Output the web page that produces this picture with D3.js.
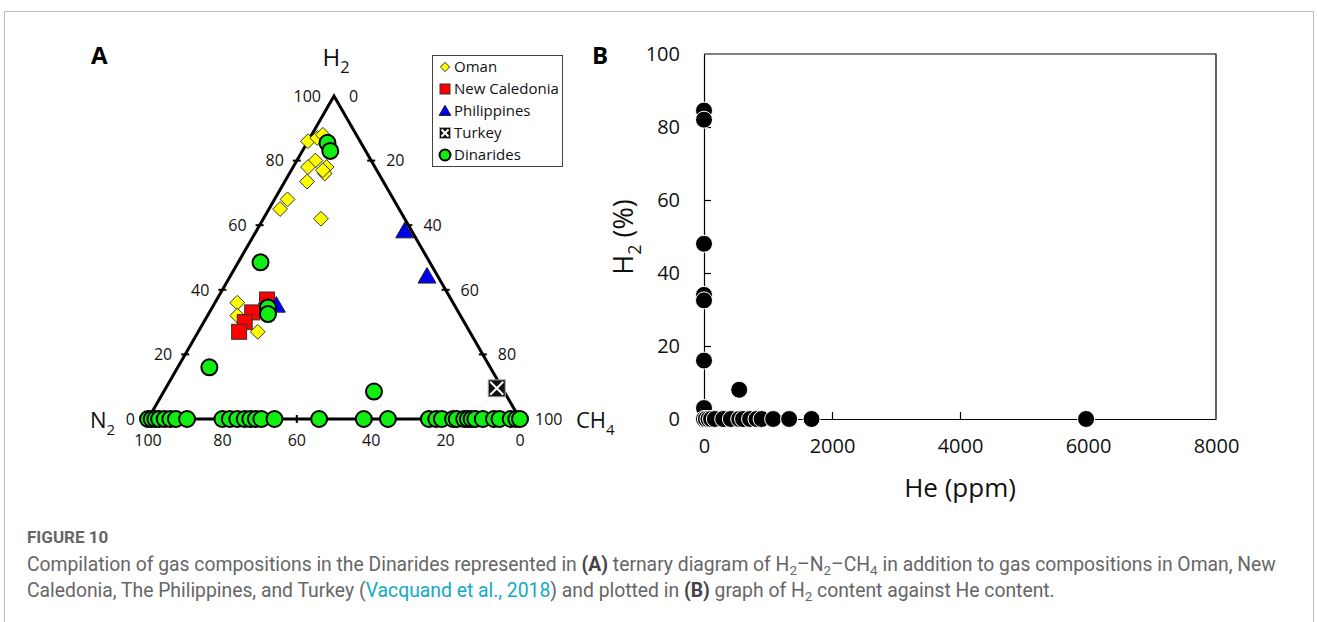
<!DOCTYPE html>
<html>
<head>
<meta charset="utf-8">
<script src="https://cdn.jsdelivr.net/npm/d3@7"></script>
<style>
  body { margin: 0; background: #fff; }
  svg text { font-family: "Open Sans", "Noto Sans", sans-serif; fill: #111; }
</style>
</head>
<body>
<div id="chart"></div>
<script>
// ---- panel A : ternary H2 - N2 - CH4 (percent) ----
var omanH2  = [86, 87, 88, 78, 80, 78, 76, 77, 73.5, 68, 65, 62, 36, 32, 27];
var omanN2  = [14, 11, 9, 13, 15, 18, 14.5, 14.5, 20.5, 28.5, 32, 22.5, 58, 60, 57];
var omanCH4 = [0, 2, 3, 9, 5, 4, 9.5, 8.5, 6, 3.5, 3, 15.5, 6, 8, 16];

var ncH2  = [37, 33.5, 33, 30, 27];
var ncN2  = [49.5, 51.5, 55.5, 59, 62];
var ncCH4 = [13.5, 15, 11.5, 11, 11];

var phH2  = [58, 44, 35];
var phN2  = [2, 3, 48];
var phCH4 = [40, 53, 17];

var tkH2  = [9.5];
var tkN2  = [1.5];
var tkCH4 = [89];

var dinH2  = [85.5, 83, 48.5, 34.5, 32.5, 16, 8.5,
              0, 0, 0, 0, 0, 0, 0, 0, 0, 0, 0, 0, 0, 0, 0, 0, 0, 0, 0,
              0, 0, 0, 0, 0, 0, 0, 0, 0, 0, 0, 0, 0, 0, 0];
var dinCH4 = [5.5, 7.5, 6, 15, 16, 8.5, 56.5,
              0, 1, 2, 3, 4.5, 6, 7.5, 10.5, 20, 22, 24, 26, 27.5, 29, 30.5, 34, 46,
              58, 64.5, 75.5, 77.5, 79, 82, 83, 85, 86, 87, 88, 90, 93, 94.5, 97.5, 99, 100];

var axisTicks = [0, 20, 40, 60, 80, 100];

// ---- panel B : H2 vs He ----
var bHe = [0, 0, 0, 0, 0, 0, 0, 550,
           0, 30, 70, 110, 170, 300, 420, 550, 610, 720, 820, 900, 1080, 1330, 1680, 5970];
var bH2 = [84.5, 82, 48, 34, 32.5, 16, 3, 8,
           0, 0, 0, 0, 0, 0, 0, 0, 0, 0, 0, 0, 0, 0, 0, 0];
var bXTicks = [0, 2000, 4000, 6000, 8000];
var bYTicks = [0, 20, 40, 60, 80, 100];

var legendNames = ["Oman", "New Caledonia", "Philippines", "Turkey", "Dinarides"];

var W = 1317, H = 622;
var svg = d3.select("#chart").append("svg")
  .attr("width", W).attr("height", H);

// page frame
svg.append("path")
  .attr("d", "M4.5,622 V11.5 H1313.5 V622")
  .attr("fill", "none").attr("stroke", "#bcbcbc").attr("stroke-width", 1);

// ======== PANEL A ========
var tx = d3.scaleLinear().domain([0, 100]).range([148, 520]);
var ty = d3.scaleLinear().domain([0, 100]).range([419, 96]);

function tern(h, n, c) {
  var s = h + n + c;
  h = h / s * 100; c = c / s * 100;
  return [tx(c + h / 2), ty(h)];
}

var gA = svg.append("g");

var corners = [tern(0, 100, 0), tern(100, 0, 0), tern(0, 0, 100)];
gA.append("path")
  .attr("d", d3.line()(corners) + "Z")
  .attr("fill", "none").attr("stroke", "#000").attr("stroke-width", 3)
  .attr("stroke-linejoin", "miter");

// ticks
var inner = [20, 40, 60, 80];
inner.forEach(function(v) {
  var p = tern(v, 100 - v, 0);
  gA.append("line").attr("x1", p[0] - 4).attr("x2", p[0] + 4).attr("y1", p[1]).attr("y2", p[1])
    .attr("stroke", "#000").attr("stroke-width", 2);
  var q = tern(100 - v, 0, v);
  gA.append("line").attr("x1", q[0] - 4).attr("x2", q[0] + 4).attr("y1", q[1]).attr("y2", q[1])
    .attr("stroke", "#000").attr("stroke-width", 2);
  var r = tern(0, v, 100 - v);
  gA.append("line").attr("x1", r[0]).attr("x2", r[0]).attr("y1", r[1] - 4).attr("y2", r[1] + 4)
    .attr("stroke", "#000").attr("stroke-width", 2);
});

// tick labels
axisTicks.forEach(function(v) {
  var p = tern(v, 100 - v, 0);
  gA.append("text").attr("x", p[0] - 13).attr("y", p[1]).attr("dy", "0.36em")
    .attr("text-anchor", "end").style("font-size", "16px").text(v);
  var q = tern(100 - v, 0, v);
  gA.append("text").attr("x", q[0] + 15).attr("y", q[1]).attr("dy", "0.36em")
    .attr("text-anchor", "start").style("font-size", "16px").text(v);
  var r = tern(0, v, 100 - v);
  gA.append("text").attr("x", r[0]).attr("y", r[1] + 27)
    .attr("text-anchor", "middle").style("font-size", "16px").text(v);
});

// vertex titles
function subLabel(g, x, y, main, sub, size, anchor) {
  var t = g.append("text").attr("x", x).attr("y", y).attr("text-anchor", anchor)
    .style("font-size", size + "px");
  t.append("tspan").text(main);
  t.append("tspan").attr("dy", size * 0.3).style("font-size", (size * 0.68) + "px").text(sub);
  return t;
}
subLabel(gA, 336, 66, "H", "2", 24, "middle");
subLabel(gA, 90, 428, "N", "2", 22, "start");
subLabel(gA, 576, 428, "CH", "4", 22, "start");

gA.append("text").attr("x", 91).attr("y", 64).style("font-size", "24px")
  .style("font-weight", "bold").style("fill", "#000").text("A");

// markers
var diamond = d3.symbol().type(d3.symbolDiamond2).size(140);
var tri = d3.symbol().type(d3.symbolTriangle).size(140);

function drawSet(hs, ns, cs, fn) {
  hs.forEach(function(h, i) { var p = tern(h, ns[i], cs[i]); fn(p); });
}
drawSet(omanH2, omanN2, omanCH4, function(p) {
  gA.append("path").attr("d", diamond).attr("transform", "translate(" + p + ")")
    .attr("fill", "#ffff00").attr("stroke", "#333").attr("stroke-width", 1);
});
drawSet(ncH2, ncN2, ncCH4, function(p) {
  gA.append("rect").attr("x", p[0] - 7.5).attr("y", p[1] - 7.5).attr("width", 15).attr("height", 15)
    .attr("fill", "#ff0000").attr("stroke", "#333").attr("stroke-width", 1);
});
drawSet(phH2, phN2, phCH4, function(p) {
  gA.append("path").attr("d", tri).attr("transform", "translate(" + p[0] + "," + (p[1] + 1) + ")")
    .attr("fill", "#0000ee").attr("stroke", "#222").attr("stroke-width", 1);
});
function turkey(g, x, y, s) {
  g.append("rect").attr("x", x - s / 2).attr("y", y - s / 2).attr("width", s).attr("height", s)
    .attr("fill", "#111").attr("stroke", "#aaa").attr("stroke-width", 1);
  var k = s / 2 - 2;
  g.append("path").attr("d", "M" + (x - k) + "," + (y - k) + "L" + (x + k) + "," + (y + k) +
      "M" + (x + k) + "," + (y - k) + "L" + (x - k) + "," + (y + k))
    .attr("stroke", "#fff").attr("stroke-width", 2);
}
drawSet(tkH2, tkN2, tkCH4, function(p) { turkey(gA, p[0], p[1], 17); });
dinH2.forEach(function(h, i) {
  var c = dinCH4[i];
  var p = tern(h, 100 - h - c, c);
  gA.append("circle").attr("cx", p[0]).attr("cy", p[1]).attr("r", 8)
    .attr("fill", "#11ee11").attr("stroke", "#000").attr("stroke-width", 2);
});

// legend
var lg = gA.append("g");
lg.append("rect").attr("x", 432.5).attr("y", 55.5).attr("width", 130).attr("height", 111)
  .attr("fill", "#fff").attr("stroke", "#444").attr("stroke-width", 1);
legendNames.forEach(function(name, i) {
  var y = 67 + i * 22, x = 445;
  if (i === 0) lg.append("path").attr("d", d3.symbol().type(d3.symbolDiamond2).size(55))
    .attr("transform", "translate(" + x + "," + y + ")").attr("fill", "#ffff00").attr("stroke", "#333");
  if (i === 1) lg.append("rect").attr("x", x - 5).attr("y", y - 5).attr("width", 10).attr("height", 10)
    .attr("fill", "#ff0000").attr("stroke", "#333");
  if (i === 2) lg.append("path").attr("d", d3.symbol().type(d3.symbolTriangle).size(60))
    .attr("transform", "translate(" + x + "," + (y + 1) + ")").attr("fill", "#0000ee").attr("stroke", "#222");
  if (i === 3) turkey(lg, x, y, 11);
  if (i === 4) lg.append("circle").attr("cx", x).attr("cy", y).attr("r", 5.5)
    .attr("fill", "#11ee11").attr("stroke", "#000").attr("stroke-width", 2);
  lg.append("text").attr("x", 454).attr("y", y).attr("dy", "0.36em")
    .style("font-size", "15px").text(name);
});

// ======== PANEL B ========
var x = d3.scaleLinear().domain([0, 8000]).range([704, 1216]);
var y = d3.scaleLinear().domain([0, 100]).range([419, 54]);
var gB = svg.append("g");

gB.append("path")
  .attr("d", "M" + x(0) + "," + y(100) + "H" + x(8000) + "V" + y(0))
  .attr("fill", "none").attr("stroke", "#000").attr("stroke-width", 1.2);

var xAxis = gB.append("g").attr("transform", "translate(0," + y(0) + ")")
  .call(d3.axisBottom(x).tickValues(bXTicks).tickSize(-7).tickSizeOuter(0).tickPadding(20).tickFormat(d3.format("d")));
var yAxis = gB.append("g").attr("transform", "translate(" + x(0) + ",0)")
  .call(d3.axisLeft(y).tickValues(bYTicks).tickSize(-7).tickSizeOuter(0).tickPadding(24));
[xAxis, yAxis].forEach(function(a) {
  a.selectAll("path,line").attr("stroke", "#000").attr("stroke-width", 1.2);
  a.selectAll("text").style("font-size", "20px").attr("fill", "#111")
    .style("font-family", "'Open Sans', sans-serif");
});
xAxis.selectAll(".tick").filter(function(d) { return d === 0 || d === 8000; }).select("line").remove();
yAxis.selectAll(".tick").filter(function(d) { return d === 0 || d === 100; }).select("line").remove();

bH2.forEach(function(h, i) {
  gB.append("circle").attr("cx", x(bHe[i])).attr("cy", y(h)).attr("r", 8.5)
    .attr("fill", "#000").attr("stroke", "#fff").attr("stroke-width", 1);
});

var yt = gB.append("text").attr("transform", "translate(633,237) rotate(-90)")
  .attr("text-anchor", "middle").style("font-size", "27px");
yt.append("tspan").text("H");
yt.append("tspan").attr("dy", 8).style("font-size", "18px").text("2");
yt.append("tspan").attr("dy", -8).text(" (%)");

gB.append("text").attr("x", 960).attr("y", 497).attr("text-anchor", "middle")
  .style("font-size", "26px").text("He (ppm)");

gB.append("text").attr("x", 592).attr("y", 64).style("font-size", "24px")
  .style("font-weight", "bold").style("fill", "#000").text("B");

// ======== CAPTION ========
var capFont = "'Liberation Sans Narrow', 'Roboto', sans-serif";
svg.append("text").attr("x", 27).attr("y", 543).style("font-family", capFont)
  .style("font-size", "17px").style("font-weight", "bold").style("fill", "#666").text("FIGURE 10");

function capLine(yPos, parts) {
  var t = svg.append("text").attr("x", 27).attr("y", yPos).style("font-family", capFont)
    .style("font-size", "16px").style("fill", "#666");
  var shifted = false;
  parts.forEach(function(p) {
    var s = t.append("tspan").text(p.t);
    if (p.b) s.style("font-weight", "bold").style("fill", "#444");
    if (p.l) s.style("fill", "#12a9c8");
    if (p.s) { s.attr("dy", 4).attr("class", "sub").style("font-size", "11px"); shifted = true; }
    else if (shifted) { s.attr("dy", -4); shifted = false; }
  });
  return t;
}
var l1 = capLine(571, [
  {t: "Compilation of gas compositions in the Dinarides represented in "}, {t: "(A)", b: 1},
  {t: " ternary diagram of H"}, {t: "2", s: 1}, {t: "\u2013N"}, {t: "2", s: 1}, {t: "\u2013CH"}, {t: "4", s: 1},
  {t: " in addition to gas compositions in Oman, New"}]);
var l2 = capLine(597, [
  {t: "Caledonia, The Philippines, and Turkey ("}, {t: "Vacquand et al., 2018", l: 1},
  {t: ") and plotted in "}, {t: "(B)", b: 1}, {t: " graph of H"}, {t: "2", s: 1},
  {t: " content against He content."}]);
var w1 = l1.node().getComputedTextLength();
var fs = 16 * 1249 / w1;
[l1, l2].forEach(function(t) {
  t.style("font-size", fs + "px");
  t.selectAll("tspan.sub").style("font-size", (fs * 0.7) + "px");
});
</script>
</body>
</html>
